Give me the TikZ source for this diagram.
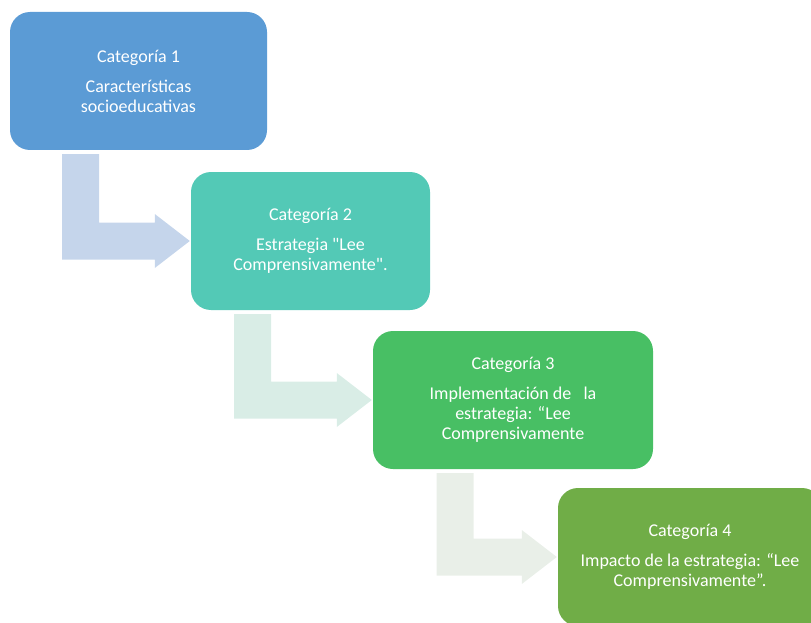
\documentclass[tikz,border=0pt]{standalone}
\usepackage{fontspec}
\setmainfont{Carlito}[Ligatures=TeXOff]
\usetikzlibrary{calc,backgrounds}
\definecolor{cA}{HTML}{5B9BD5}
\definecolor{cB}{HTML}{53C9B6}
\definecolor{cC}{HTML}{48BF64}
\definecolor{cD}{HTML}{70AD47}
\definecolor{aA}{HTML}{C5D5EB}
\definecolor{aB}{HTML}{D9EDE6}
\definecolor{aC}{HTML}{E9EFE8}
\tikzset{
  box/.style={rounded corners=20pt, minimum height=138pt, text=white, align=center,
    font=\fontsize{18}{20}\selectfont, inner sep=0pt},
}
\newcommand\bentarrow[3]{%
  \fill[#3] let \p1=(#1.south), \p2=(#2.west) in
    (\x1-76.5pt,\y1-4pt) -- (\x1-39.5pt,\y1-4pt) -- (\x1-39.5pt,\y2+18.5pt)
    -- (\x2-36pt,\y2+18.5pt) -- (\x2-36pt,\y2+27pt) -- (\x2-1pt,\y2)
    -- (\x2-36pt,\y2-27pt) -- (\x2-36pt,\y2-18.5pt) -- (\x1-76.5pt,\y2-18.5pt) -- cycle;}
\begin{document}
\begin{tikzpicture}[x=1pt,y=-1pt]
\useasboundingbox (0,0) rectangle (811,623);
\node[box, fill=cA, minimum width=257pt] (b1) at (138.5,81)
  {Categoría 1\\[10pt]Características\\socioeducativas};
\node[box, fill=cB, minimum width=239pt] (b2) at (310.5,241)
  {Categoría 2\\[10pt]Estrategia "Lee\\Comprensivamente".};
\node[box, fill=cC, minimum width=280pt] (b3) at (513,400)
  {Categoría 3\\[10pt]Implementación de \ \ la\\estrategia: “Lee\\Comprensivamente};
\node[box, fill=cD, minimum width=264pt] (b4) at (690,557)
  {Categoría 4\\[10pt]Impacto de la estrategia: “Lee\\Comprensivamente”.};
\begin{scope}[on background layer]
\bentarrow{b1}{b2}{aA}
\bentarrow{b2}{b3}{aB}
\bentarrow{b3}{b4}{aC}
\end{scope}
\end{tikzpicture}
\end{document}
